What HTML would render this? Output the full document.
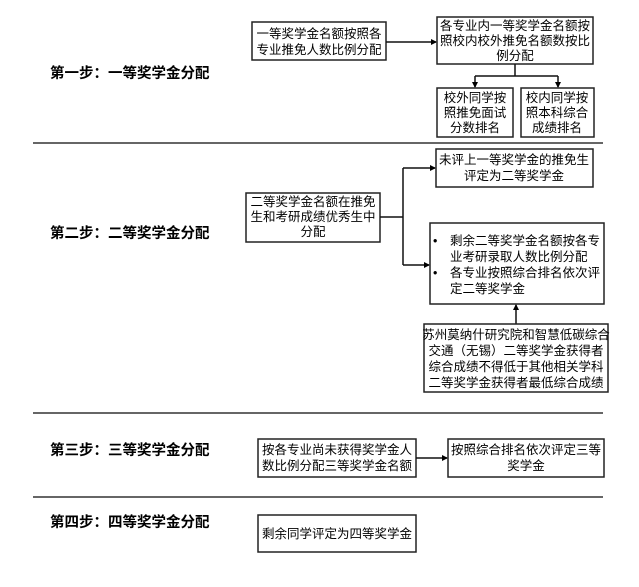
<!DOCTYPE html>
<html><head><meta charset="utf-8"><style>
html,body{margin:0;padding:0;background:#fff}
svg text{font-family:"Liberation Sans","Noto Sans CJK SC",sans-serif;fill:#000}
.b{font-size:12.5px}
.s{font-size:14.5px;font-weight:bold}
rect{fill:#fff;stroke:#222;stroke-width:1.5}
.l{stroke:#111;stroke-width:1.5;fill:none}
.sep{stroke:#666;stroke-width:2}
</style></head><body>
<svg width="639" height="582" viewBox="0 0 639 582" xmlns="http://www.w3.org/2000/svg">
<defs><marker id="a" markerWidth="6" markerHeight="6" refX="5" refY="3" orient="auto" markerUnits="userSpaceOnUse"><path d="M0,0 L6,3 L0,6 z" fill="#000"/></marker></defs>
<line class="sep" x1="33" y1="143" x2="603" y2="143"/>
<line class="sep" x1="33" y1="413" x2="603" y2="413"/>
<line class="sep" x1="33" y1="497" x2="603" y2="497"/>
<text class="s" x="50" y="78">第一步：一等奖学金分配</text>
<text class="s" x="50" y="238">第二步：二等奖学金分配</text>
<text class="s" x="50" y="455">第三步：三等奖学金分配</text>
<text class="s" x="50" y="527">第四步：四等奖学金分配</text>

<rect x="252" y="22" width="134" height="38"/>
<text class="b" x="319" y="38" text-anchor="middle">一等奖学金名额按照各</text>
<text class="b" x="319" y="54" text-anchor="middle">专业推免人数比例分配</text>
<line class="l" x1="386" y1="42" x2="436" y2="42" marker-end="url(#a)"/>
<rect x="437" y="17" width="156" height="47"/>
<text class="b" x="515" y="30" text-anchor="middle">各专业内一等奖学金名额按</text>
<text class="b" x="515" y="45" text-anchor="middle">照校内校外推免名额数按比</text>
<text class="b" x="515" y="60" text-anchor="middle">例分配</text>
<path class="l" d="M515,64 V76 M475,76 H558"/>
<line class="l" x1="475" y1="76" x2="475" y2="87" marker-end="url(#a)"/>
<line class="l" x1="558" y1="76" x2="558" y2="87" marker-end="url(#a)"/>
<rect x="437" y="88" width="76" height="49"/>
<text class="b" x="475" y="102" text-anchor="middle">校外同学按</text>
<text class="b" x="475" y="117" text-anchor="middle">照推免面试</text>
<text class="b" x="475" y="132" text-anchor="middle">分数排名</text>
<rect x="521" y="88" width="73" height="49"/>
<text class="b" x="557" y="102" text-anchor="middle">校内同学按</text>
<text class="b" x="557" y="117" text-anchor="middle">照本科综合</text>
<text class="b" x="557" y="132" text-anchor="middle">成绩排名</text>

<rect x="246" y="193" width="134" height="49"/>
<text class="b" x="313" y="206" text-anchor="middle">二等奖学金名额在推免</text>
<text class="b" x="313" y="221" text-anchor="middle">生和考研成绩优秀生中</text>
<text class="b" x="313" y="236" text-anchor="middle">分配</text>
<path class="l" d="M380,217 H403 M403,168 V265"/>
<line class="l" x1="403" y1="168" x2="435" y2="168" marker-end="url(#a)"/>
<line class="l" x1="403" y1="265" x2="429" y2="265" marker-end="url(#a)"/>
<rect x="436" y="149" width="157" height="38"/>
<text class="b" x="514" y="164" text-anchor="middle">未评上一等奖学金的推免生</text>
<text class="b" x="514" y="180" text-anchor="middle">评定为二等奖学金</text>
<rect x="430" y="223" width="174" height="81"/>
<text class="b" x="433" y="245">•</text>
<text class="b" x="450" y="245">剩余二等奖学金名额按各专</text>
<text class="b" x="450" y="261">业考研录取人数比例分配</text>
<text class="b" x="433" y="277">•</text>
<text class="b" x="450" y="277">各专业按照综合排名依次评</text>
<text class="b" x="450" y="293">定二等奖学金</text>
<line class="l" x1="516" y1="324" x2="516" y2="305" marker-end="url(#a)"/>
<rect x="424" y="324" width="184" height="68"/>
<text class="b" x="516" y="339" text-anchor="middle">苏州莫纳什研究院和智慧低碳综合</text>
<text class="b" x="516" y="355" text-anchor="middle">交通（无锡）二等奖学金获得者</text>
<text class="b" x="516" y="371" text-anchor="middle">综合成绩不得低于其他相关学科</text>
<text class="b" x="516" y="387" text-anchor="middle">二等奖学金获得者最低综合成绩</text>

<rect x="258" y="439" width="158" height="38"/>
<text class="b" x="337" y="454" text-anchor="middle">按各专业尚未获得奖学金人</text>
<text class="b" x="337" y="470" text-anchor="middle">数比例分配三等奖学金名额</text>
<line class="l" x1="416" y1="458" x2="447" y2="458" marker-end="url(#a)"/>
<rect x="448" y="439" width="156" height="38"/>
<text class="b" x="526" y="454" text-anchor="middle">按照综合排名依次评定三等</text>
<text class="b" x="526" y="470" text-anchor="middle">奖学金</text>

<rect x="258" y="515" width="158" height="37"/>
<text class="b" x="337" y="538" text-anchor="middle">剩余同学评定为四等奖学金</text>
</svg>
</body></html>
